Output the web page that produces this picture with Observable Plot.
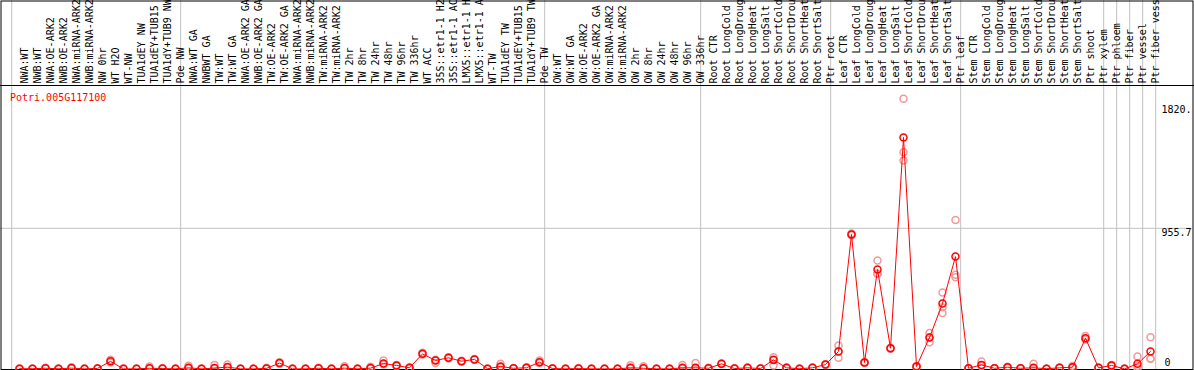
<!DOCTYPE html>
<html>
<head>
<meta charset="utf-8">
<script src="https://cdn.jsdelivr.net/npm/d3@7"></script>
<script src="https://cdn.jsdelivr.net/npm/@observablehq/plot@0.6"></script>
<style>
  html, body { margin: 0; padding: 0; background: #fff; }
  #chart svg { display: block; }
</style>
</head>
<body>
<div id="chart"></div>
<script>
const geneId = "Potri.005G117100";

const categories = [
  "NWA:WT","NWB:WT","NWA:OE-ARK2","NWB:OE-ARK2","NWA:miRNA-ARK2","NWB:miRNA-ARK2","NW 0hr","WT H2O","WT-NW","TUA1dEY NW","TUA1dEY+TUB15","TUA1dY+TUB9 NW","Pde NW",
  "NWA:WT GA","NWBWT GA","TW:WT","TW:WT GA","NWA:OE-ARK2 GA","NWB:OE-ARK2 GA","TW:OE-ARK2","TW:OE-ARK2 GA","NWA:miRNA-ARK2","NWB:miRNA-ARK2","TW:miRNA-ARK2","TW:miRNA-ARK2","TW 2hr","TW 8hr","TW 24hr","TW 48hr","TW 96hr","TW 336hr","WT ACC","35S::etr1-1 H2","35S::etr1-1 AC","LMX5::etr1-1 H","LMX5::etr1-1 A","WT-TW","TUA1dEY TW","TUA1dEY+TUB15","TUA1dY+TUB9 TW","Pde TW",
  "OW:WT","OW:WT GA","OW:OE-ARK2","OW:OE-ARK2 GA","OW:miRNA-ARK2","OW:miRNA-ARK2","OW 2hr","OW 8hr","OW 24hr","OW 48hr","OW 96hr","OW 336hr",
  "Root CTR","Root LongCold","Root LongDroug","Root LongHeat","Root LongSalt","Root ShortCold","Root ShortDrou","Root ShortHeat","Root ShortSalt","Ptr root",
  "Leaf CTR","Leaf LongCold","Leaf LongDroug","Leaf LongHeat","Leaf LongSalt","Leaf ShortCold","Leaf ShortDrou","Leaf ShortHeat","Leaf ShortSalt","Ptr leaf",
  "Stem CTR","Stem LongCold","Stem LongDroug","Stem LongHeat","Stem LongSalt","Stem ShortCold","Stem ShortDrou","Stem ShortHeat","Stem ShortSalt","Ptr shoot","Ptr xylem",
  "Ptr phloem","Ptr fiber","Ptr vessel","Ptr fiber vess"
];

// index of first category of each group (plus the end)
const groupStarts = [0, 13, 41, 53, 63, 73, 84, 85, 86, 87, 88];

const means = [
  2,2,5,2,6,1,4,52,1,1,5,3,1,
  8,1,6,13,1,1,4,40,1,1,5,1,6,1,6,37,24,8,103,58,76,53,65,2,17,5,8,46,
  3,1,3,1,1,1,8,5,1,1,8,8,
  5,35,3,8,3,62,8,2,8,30,
  119,914,44,676,141,1573,17,214,445,764,
  5,28,5,12,5,8,2,8,12,209,8,
  24,1,35,119
];
const rep1 = [
  2,2,8,2,12,1,4,62,1,1,17,3,1,
  22,1,28,30,1,1,8,46,1,1,8,1,18,1,15,57,28,10,110,40,80,56,68,2,35,5,12,57,
  3,1,3,1,1,1,25,18,1,1,27,40,
  8,38,3,10,3,80,10,2,8,33,
  160,920,47,737,145,1836,20,245,519,1013,
  5,51,5,15,5,35,2,8,20,225,8,
  28,1,85,216
];
const rep2 = [
  2,2,3,2,3,1,4,45,1,1,3,3,1,
  4,1,3,8,1,1,3,36,1,1,3,1,3,1,3,30,20,5,98,62,72,50,62,2,10,5,5,40,
  3,1,3,1,1,1,4,3,1,1,4,3,
  3,32,3,5,3,24,5,2,8,27,
  76,908,40,649,137,1473,14,182,380,640,
  5,20,5,9,5,4,2,8,8,200,8,
  20,1,20,69
];
const rep3 = [
  2,2,5,2,5,1,4,50,1,1,4,3,1,
  6,1,5,12,1,1,4,39,1,1,5,1,5,1,5,35,24,8,101,60,76,53,65,2,15,5,8,44,
  3,1,3,1,1,1,7,5,1,1,7,6,
  5,35,3,8,3,60,8,2,8,30,
  120,914,44,645,141,1417,17,214,420,624,
  5,26,5,12,5,7,2,8,12,205,8,
  24,1,5,72
];

const yTickValues = [1820, 955.7, 0];
const yTickLabels = ["1820.", "955.7", "0"];

const repTable = [];
means.forEach((m, i) => {
  for (const r of [rep1, rep2, rep3]) repTable.push({i, v: r[i]});
});
const meanTable = means.map((v, i) => ({i, v, label: categories[i]}));
const boundaries = groupStarts.map(s => s - 0.6);

const W = 1194, H = 370;
const mL = 19, mR = 44, mT = 85, mB = 1.5;
const font = "'DejaVu Sans Mono', monospace";

const chart = Plot.plot({
  width: W,
  height: H,
  marginTop: mT,
  marginBottom: mB,
  marginLeft: mL,
  marginRight: mR,
  x: {type: "linear", domain: [0, categories.length - 1], axis: null},
  y: {domain: [0, 1926], axis: null},
  style: {fontFamily: font, fontSize: "10px", background: "white", color: "black"},
  marks: [
    Plot.ruleY([yTickValues[1]], {stroke: "#c0c0c0", insetLeft: -mL, insetRight: -(mR - 2)}),
    Plot.ruleX(boundaries, {stroke: "#c0c0c0", insetTop: -mT, insetBottom: -1}),
    Plot.ruleY([1926], {stroke: "black", insetLeft: -mL, insetRight: -mR}),
    Plot.frame({stroke: "black", insetLeft: -(mL - 0.5), insetRight: -(mR - 1.5), insetTop: -(mT - 0.5), insetBottom: -0.5}),
    Plot.text(meanTable, {x: "i", text: "label", frameAnchor: "top", rotate: -90, textAnchor: "start", dy: -2, dx: 1, fill: "black", fontSize: 10}),
    Plot.text([geneId], {frameAnchor: "top-left", textAnchor: "start", lineAnchor: "middle", dx: -9.5, dy: 12, fill: "red", fontSize: 10}),
    Plot.dot(repTable, {x: "i", y: "v", r: 3.5, stroke: "#f09a9a", strokeWidth: 1.5, fill: "none"}),
    Plot.line(meanTable, {x: "i", y: "v", stroke: "red", strokeWidth: 1}),
    Plot.dot(meanTable, {x: "i", y: "v", r: 3.5, stroke: "red", strokeWidth: 1.5, fill: "none"}),
    Plot.text([yTickLabels[0]], {y: [yTickValues[0]], frameAnchor: "right", textAnchor: "start", lineAnchor: "middle", dx: 11, dy: 9, fill: "black"}),
    Plot.text([yTickLabels[1]], {y: [yTickValues[1]], frameAnchor: "right", textAnchor: "start", lineAnchor: "middle", dx: 11, dy: 4.5, fill: "black"}),
    Plot.text([yTickLabels[2]], {y: [yTickValues[2]], frameAnchor: "right", textAnchor: "start", lineAnchor: "middle", dx: 14, dy: -6.5, fill: "black"})
  ]
});
document.getElementById("chart").appendChild(chart);
</script>
</body>
</html>
